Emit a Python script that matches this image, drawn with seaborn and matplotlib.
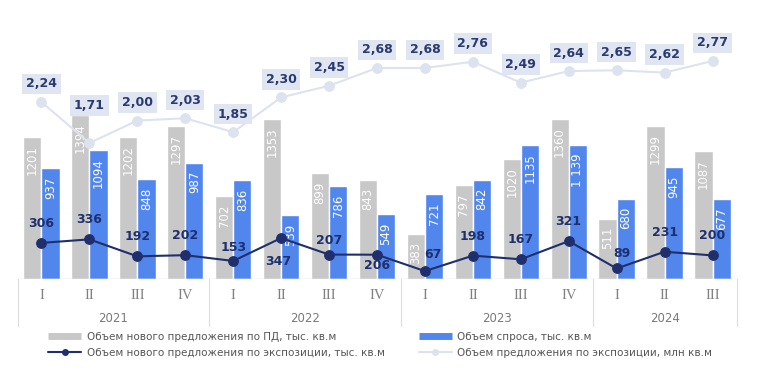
import numpy as np
import pandas as pd
import matplotlib
matplotlib.use("Agg")
import matplotlib.pyplot as plt
import matplotlib.transforms as mtransforms
from matplotlib.lines import Line2D
import seaborn as sns

# Данные
quarters = ['I', 'II', 'III', 'IV', 'I', 'II', 'III', 'IV', 'I', 'II', 'III', 'IV', 'I', 'II', 'III']
years = ['2021', '2022', '2023', '2024']
year_quarters = [4, 4, 4, 3]
new_supply_pd = [1201, 1394, 1202, 1297, 702, 1353, 899, 843, 383, 797, 1020, 1360, 511, 1299, 1087]
demand = [937, 1094, 848, 987, 836, 539, 786, 549, 721, 842, 1135, 1139, 680, 945, 677]
demand_labels = ['937', '1094', '848', '987', '836', '539', '786', '549', '721', '842', '1135', '1 139', '680', '945', '677']
new_supply_expo = [306, 336, 192, 202, 153, 347, 207, 206, 67, 198, 167, 321, 89, 231, 200]
expo_total = [2.24, 1.71, 2.00, 2.03, 1.85, 2.30, 2.45, 2.68, 2.68, 2.76, 2.49, 2.64, 2.65, 2.62, 2.77]

series_names = ['Объем нового предложения по ПД, тыс. кв.м',
                'Объем спроса, тыс. кв.м',
                'Объем нового предложения по экспозиции, тыс. кв.м',
                'Объем предложения по экспозиции, млн кв.м']

# Цвета
gray = '#c8c8c8'
blue = '#5186ec'
navy = '#1f2f6e'
light = '#dde3ee'
label_bg = '#dfe5f1'

sns.set_style('white')
plt.rcParams['font.family'] = ['DejaVu Sans']

# подписи периодов
year_col = []
for y, k in zip(years, year_quarters):
    year_col += [y] * k
periods = [f'{q} {y}' for q, y in zip(quarters, year_col)]
n = len(periods)
pos = np.arange(n)

df_bars = pd.DataFrame({
    'period': periods * 2,
    'value': new_supply_pd + demand,
    'series': [series_names[0]] * n + [series_names[1]] * n,
})

fig = plt.figure(figsize=(7.6, 3.83), dpi=100)
ax = fig.add_axes([17.5 / 760, (383 - 279) / 383, 719 / 760, 259 / 383])

sns.barplot(data=df_bars, x='period', y='value', hue='series', palette=[gray, blue],
            width=0.76, gap=0, saturation=1, legend=False, ax=ax)

# подписи столбцов
for container, labels in zip(ax.containers, [[str(v) for v in new_supply_pd], demand_labels]):
    for bar, lab in zip(container, labels):
        ax.annotate(lab, (bar.get_x() + bar.get_width() / 2, bar.get_height()),
                    xytext=(0, -6), textcoords='offset points', rotation=90,
                    ha='center', va='top', color='white', fontsize=8.5)

# линия нового предложения по экспозиции
sns.lineplot(x=pos, y=new_supply_expo, ax=ax, color=navy, lw=1.5, marker='o',
             markersize=7, markeredgecolor=navy, sort=False, zorder=5)
expo_offsets = [(0, 14), (0, 14), (0, 14), (0, 14), (0, 10), (-2, -17), (0, 10), (0, -8),
                (6, 12), (0, 14), (0, 14), (0, 14), (4, 11), (0, 14), (0, 14)]
for x, v, off in zip(pos, new_supply_expo, expo_offsets):
    ax.annotate(str(v), (x, v), xytext=off, textcoords='offset points', ha='center',
                va='center', color=navy, fontsize=9, fontweight='bold', zorder=6)

ax.set_xlim(-0.5, n - 0.5)
ax.set_ylim(0, 2195)
ax.set_xticks(pos)
ax.set_xticklabels(quarters, fontfamily='Liberation Serif', fontsize=10.5, color='#808080')
ax.tick_params(axis='x', length=0, pad=7)
ax.set_yticks([])
ax.set_xlabel('')
ax.set_ylabel('')
for s in ax.spines.values():
    s.set_visible(False)
ax.axhline(0, color='#d6dbe4', lw=1, zorder=1)

# рамка подписей оси
trans = mtransforms.blended_transform_factory(ax.transData, ax.transAxes)
bounds = np.cumsum([0] + year_quarters) - 0.5
for b in bounds:
    ax.plot([b, b], [0, -0.18], transform=trans, color='#dcdcdc', lw=0.8, clip_on=False)
for i, y in enumerate(years):
    ax.text((bounds[i] + bounds[i + 1]) / 2, -0.151, y, transform=trans, ha='center',
            va='center', fontsize=8.5, color='#7a7a7a')

# вторая ось: предложение по экспозиции
ax2 = ax.twinx()
sns.lineplot(x=pos, y=expo_total, ax=ax2, color=light, lw=1.5, marker='o', markersize=7,
             markeredgecolor=light, sort=False)
ax2.set_ylim(-0.048, 3.30)
ax2.set_yticks([])
ax2.set_ylabel('')
for s in ax2.spines.values():
    s.set_visible(False)
total_offsets = [13] * n
total_offsets[1] = 27
for x, v, off in zip(pos, expo_total, total_offsets):
    ax2.annotate(f'{v:.2f}'.replace('.', ','), (x, v), xytext=(0, off), textcoords='offset points',
                 ha='center', va='center', color='#2b3a6e', fontsize=9, fontweight='bold',
                 bbox=dict(boxstyle='square,pad=0.3', fc=label_bg, ec='none'))

# легенда
handles = [Line2D([], [], color=gray, lw=5, solid_capstyle='butt'),
           Line2D([], [], color=navy, lw=1.5, marker='o', markersize=4),
           Line2D([], [], color=blue, lw=5, solid_capstyle='butt'),
           Line2D([], [], color=light, lw=1.5, marker='o', markersize=4)]
labels = [series_names[0], series_names[2], series_names[1], series_names[3]]
fig.legend(handles, labels, ncol=2, loc='upper left', bbox_to_anchor=(48 / 760, 1 - 332 / 383),
           frameon=False, fontsize=7.5, labelcolor='#555555', handlelength=3.2,
           handletextpad=0.5, columnspacing=3.3, borderpad=0, borderaxespad=0,
           labelspacing=0.55)

fig.savefig('out.png', dpi=100)
